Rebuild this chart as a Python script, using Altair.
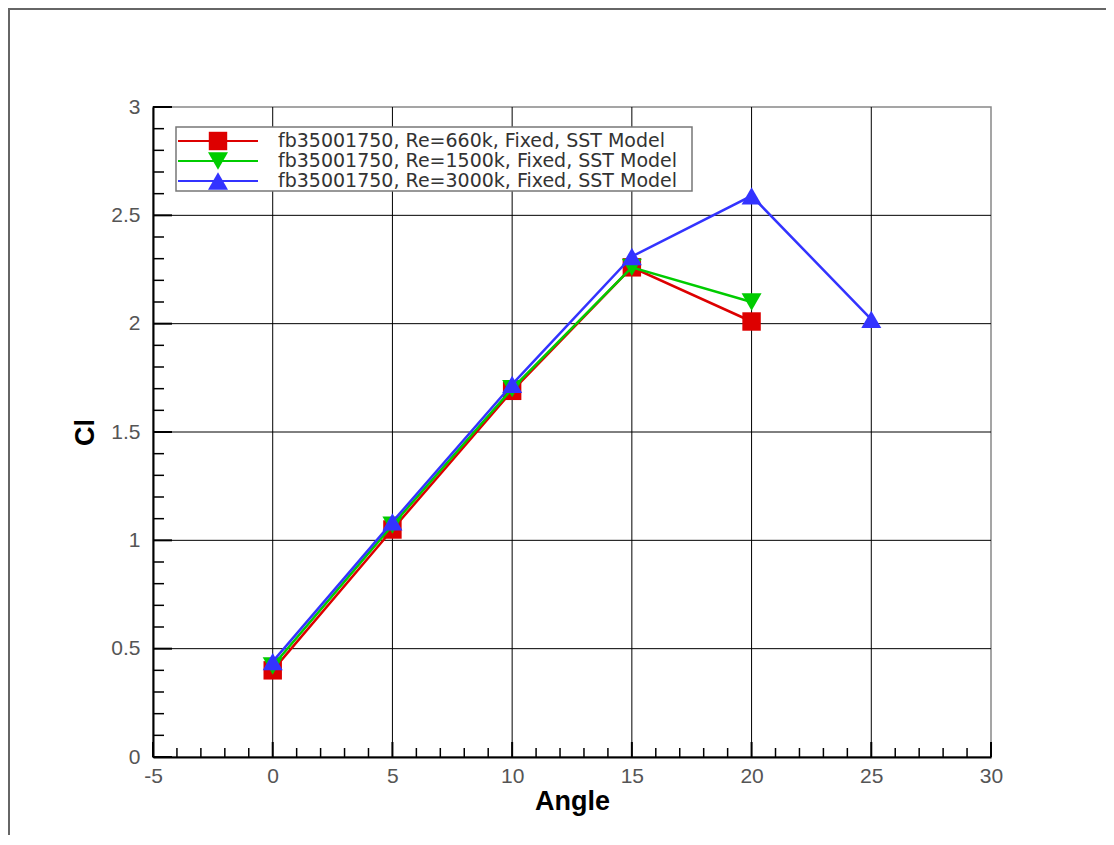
import altair as alt
import pandas as pd

# ---- data ----
series_names = [
    "fb35001750, Re=660k, Fixed, SST Model",
    "fb35001750, Re=1500k, Fixed, SST Model",
    "fb35001750, Re=3000k, Fixed, SST Model",
]
angles_660 = [0, 5, 10, 15, 20]
cl_660 = [0.40, 1.05, 1.69, 2.26, 2.01]
angles_1500 = [0, 5, 10, 15, 20]
cl_1500 = [0.42, 1.07, 1.70, 2.26, 2.10]
angles_3000 = [0, 5, 10, 15, 20, 25]
cl_3000 = [0.44, 1.085, 1.72, 2.31, 2.59, 2.02]

colors = ["#dd0000", "#00cc00", "#3333ff"]
shapes = ["square", "triangle-down", "triangle-up"]
marker_sizes = [340, 400, 400]

x_major = [-5, 0, 5, 10, 15, 20, 25, 30]
x_minor = [-4, -3, -2, -1, 1, 2, 3, 4, 6, 7, 8, 9, 11, 12, 13, 14,
           16, 17, 18, 19, 21, 22, 23, 24, 26, 27, 28, 29]
x_grid = [0, 5, 10, 15, 20, 25]
y_major = [0, 0.5, 1, 1.5, 2, 2.5, 3]
y_minor = [0.1, 0.2, 0.3, 0.4, 0.6, 0.7, 0.8, 0.9, 1.1, 1.2, 1.3, 1.4,
           1.6, 1.7, 1.8, 1.9, 2.1, 2.2, 2.3, 2.4, 2.6, 2.7, 2.8, 2.9]
y_grid = [0.5, 1, 1.5, 2, 2.5]

W, H = 838, 650
PB = 78

xscale = alt.Scale(domain=[-5, 30], nice=False, zero=False)
yscale = alt.Scale(domain=[0, 3], nice=False, zero=False)

series_data = [
    pd.DataFrame({"angle": angles_660, "cl": cl_660}),
    pd.DataFrame({"angle": angles_1500, "cl": cl_1500}),
    pd.DataFrame({"angle": angles_3000, "cl": cl_3000}),
]

label_font = "Liberation Sans"

x_axis = alt.Axis(values=x_major, title="Angle", grid=False, ticks=False,
                  labelExpr="'' + datum.value",
                  domain=True, domainColor="#000", domainWidth=2,
                  labelFont=label_font, labelFontSize=21, labelColor="#555",
                  labelPadding=8, labelFlush=False,
                  titleFont=label_font, titleFontSize=27, titleFontWeight="bold",
                  titleColor="#000", titleX=419, titleY=44,
                  titleAlign="center", titleBaseline="middle")
y_axis = alt.Axis(values=y_major, title="Cl", grid=False, ticks=False,
                  labelExpr="'' + datum.value",
                  domain=True, domainColor="#000", domainWidth=2,
                  labelFont=label_font, labelFontSize=21, labelColor="#555",
                  labelPadding=13, labelFlush=False,
                  titleFont=label_font, titleFontSize=27, titleFontWeight="bold",
                  titleColor="#000", titleX=-68, titleY=325, titleAngle=-90,
                  titleAlign="center", titleBaseline="middle")


def X(field):
    return alt.X(field, scale=xscale, axis=x_axis)


def Y(field):
    return alt.Y(field, scale=yscale, axis=y_axis)


one = pd.DataFrame({"a": [0]})

# frame around the picture
frame_top = alt.Chart(one).mark_rule(color="#666", strokeWidth=2).encode(
    x=alt.value(-145), x2=alt.value(W + 115), y=alt.value(-98))
frame_left = alt.Chart(one).mark_rule(color="#666", strokeWidth=2).encode(
    x=alt.value(-144), y=alt.value(-98), y2=alt.value(H + PB))

# grid
grid_x = alt.Chart(pd.DataFrame({"v": x_grid})).mark_rule(color="#000", strokeWidth=1).encode(
    x=X("v:Q"), y=alt.value(0), y2=alt.value(H))
grid_y = alt.Chart(pd.DataFrame({"v": y_grid})).mark_rule(color="#000", strokeWidth=1).encode(
    y=Y("v:Q"), x=alt.value(0), x2=alt.value(W))

# inward ticks
tick_xM = alt.Chart(pd.DataFrame({"v": x_major})).mark_rule(color="#000", strokeWidth=2).encode(
    x=X("v:Q"), y=alt.value(H), y2=alt.value(H - 15))
tick_xm = alt.Chart(pd.DataFrame({"v": x_minor})).mark_rule(color="#000", strokeWidth=1.5).encode(
    x=X("v:Q"), y=alt.value(H), y2=alt.value(H - 9))
tick_yM = alt.Chart(pd.DataFrame({"v": y_major})).mark_rule(color="#000", strokeWidth=2).encode(
    y=Y("v:Q"), x=alt.value(0), x2=alt.value(19))
tick_ym = alt.Chart(pd.DataFrame({"v": y_minor})).mark_rule(color="#000", strokeWidth=1.5).encode(
    y=Y("v:Q"), x=alt.value(0), x2=alt.value(11))

layers = [frame_top, frame_left, grid_x, grid_y, tick_xm, tick_xM, tick_ym, tick_yM]

for df, col, shp, sz in zip(series_data, colors, shapes, marker_sizes):
    base = alt.Chart(df).encode(x=X("angle:Q"), y=Y("cl:Q"))
    layers.append(base.mark_line(color=col, strokeWidth=2.5))
    layers.append(base.mark_point(shape=shp, size=sz, filled=True, color=col, opacity=1))

# legend box
layers.append(alt.Chart(one).mark_rect(fill="white", stroke="#777", strokeWidth=1.5).encode(
    x=alt.value(23), x2=alt.value(539), y=alt.value(20), y2=alt.value(84)))
row_y = [34, 54, 74]
for name, col, shp, sz, ry in zip(series_names, colors, shapes, marker_sizes, row_y):
    layers.append(alt.Chart(one).mark_rule(color=col, strokeWidth=2).encode(
        x=alt.value(25), x2=alt.value(105), y=alt.value(ry)))
    layers.append(alt.Chart(one).mark_point(shape=shp, size=sz, filled=True, color=col, opacity=1).encode(
        x=alt.value(65), y=alt.value(ry)))
    layers.append(alt.Chart(pd.DataFrame({"t": [name]})).mark_text(
        align="left", baseline="middle", font="DejaVu Sans", fontSize=19, color="#333").encode(
        x=alt.value(125), y=alt.value(ry), text="t:N"))

chart = alt.layer(*layers).properties(
    width=W, height=H,
    autosize=alt.AutoSizeParams(type="none"),
    padding={"left": 145, "top": 99, "right": 115, "bottom": PB},
).configure_view(stroke="#888", strokeWidth=1.5)

chart.save("out.html", embed_options={"renderer": "svg", "actions": False})
